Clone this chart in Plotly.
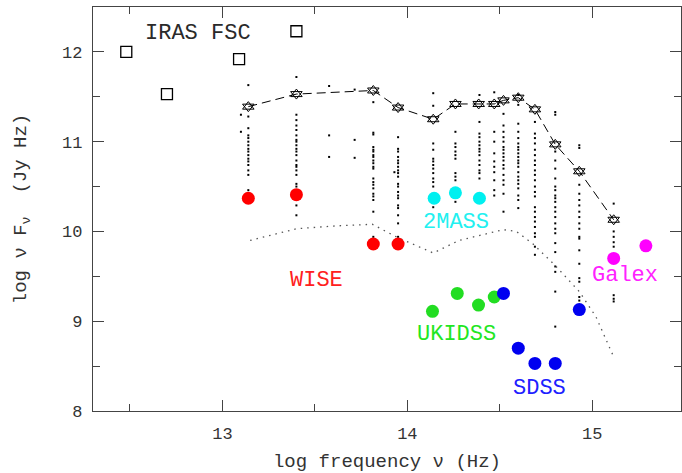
import plotly.graph_objects as go

# IRAS FSC photometry (open squares)
iras_freq = [12.48, 12.70, 13.09, 13.40]
iras_flux = [12.00, 11.53, 11.92, 12.23]

# Template SED (six-pointed stars joined by dashed line)
sed_freq = [13.14, 13.40, 13.816, 13.95, 14.14, 14.26, 14.386, 14.47, 14.52, 14.60, 14.69, 14.80, 14.93, 15.116]
sed_flux = [11.39, 11.53, 11.57, 11.38, 11.25, 11.42, 11.42, 11.42, 11.46, 11.49, 11.36, 10.97, 10.67, 10.13]

# Model curve (dotted)
model_freq = [13.15, 13.40, 13.60, 13.81, 13.95, 14.14, 14.28, 14.40, 14.52, 14.59, 14.68, 14.80, 14.93, 15.02, 15.11]
model_flux = [9.90, 10.03, 10.06, 10.08, 9.93, 9.76, 9.90, 9.96, 10.02, 10.00, 9.86, 9.62, 9.33, 9.05, 8.63]

# Survey photometry
wise_freq = [13.14, 13.40, 13.816, 13.95]
wise_flux = [10.37, 10.41, 9.86, 9.86]
tmass_freq = [14.145, 14.26, 14.39]
tmass_flux = [10.37, 10.43, 10.37]
ukidss_freq = [14.136, 14.27, 14.385, 14.47]
ukidss_flux = [9.11, 9.31, 9.18, 9.27]
sdss_freq = [14.52, 14.60, 14.69, 14.80, 14.93]
sdss_flux = [9.31, 8.70, 8.53, 8.53, 9.13]
galex_freq = [15.116, 15.29]
galex_flux = [9.70, 9.84]

# Comparison sample (small dots), one list per frequency
cloud_freq = [13.10, 13.14, 13.40, 13.577, 13.715, 13.816, 13.93, 13.95, 14.14, 14.26,
              14.39, 14.47, 14.52, 14.60, 14.69, 14.80, 14.93, 15.116]
cloud_flux = [
    [11.30, 11.11],
    [11.63, 11.28, 11.15, 11.07, 11.04, 11.00, 10.96, 10.92, 10.89, 10.85, 10.81, 10.78,
     10.74, 10.68, 10.63, 10.46],
    [11.72, 11.30, 11.24, 11.18, 11.13, 11.07, 11.02, 11.00, 10.96, 10.92, 10.89, 10.85,
     10.79, 10.74, 10.72, 10.68, 10.63, 10.53, 10.50, 10.29, 10.18],
    [11.62, 11.07, 10.83],
    [11.58, 11.02, 10.82],
    [11.44, 11.10, 11.08, 10.94, 10.91, 10.89, 10.85, 10.83, 10.79, 10.76, 10.72, 10.70,
     10.59, 10.55, 10.52, 10.48, 10.42, 10.39, 10.35, 10.22, 9.94],
    [10.66],
    [11.05, 10.92, 10.89, 10.83, 10.79, 10.76, 10.72, 10.68, 10.65, 10.61, 10.53, 10.50,
     10.44, 10.40, 10.37, 10.29, 10.26, 10.18, 10.09, 9.94],
    [11.54, 11.40, 10.98, 10.91, 10.81, 10.78, 10.74, 10.70, 10.65, 10.59, 10.55, 10.50, 10.27],
    [11.11, 10.98, 10.94, 10.89, 10.85, 10.81, 10.65, 10.61, 10.57, 10.33],
    [11.52, 11.22, 11.09, 11.05, 11.00, 10.96, 10.92, 10.89, 10.85, 10.79, 10.74, 10.68,
     10.65, 10.59],
    [11.55, 11.11, 11.00, 10.87, 10.78, 10.72, 10.66, 10.57, 10.46, 10.40],
    [11.31, 11.18, 11.11, 11.05, 11.00, 10.94, 10.91, 10.87, 10.83, 10.79, 10.74, 10.70,
     10.63, 10.57, 10.52, 10.42, 10.22],
    [11.52, 11.41, 11.20, 11.11, 11.04, 10.98, 10.94, 10.91, 10.87, 10.83, 10.79, 10.76,
     10.72, 10.66, 10.61, 10.57, 10.53, 10.48, 10.40, 10.35, 10.26],
    [11.22, 11.09, 11.04, 10.98, 10.91, 10.85, 10.79, 10.74, 10.68, 10.63, 10.57, 10.50,
     10.44, 10.39, 10.27, 10.22, 10.16, 10.11, 10.05, 9.98, 9.94, 9.83, 9.74],
    [11.33, 11.30, 10.89, 10.79, 10.70, 10.59, 10.50, 10.46, 10.40, 10.37, 10.33, 10.27,
     10.22, 10.16, 10.09, 10.03, 9.98, 9.87, 9.77, 9.61, 9.55, 9.33, 8.94],
    [10.96, 10.93, 10.52, 10.42, 10.35, 10.29, 10.22, 10.16, 10.09, 10.03, 9.94, 9.92,
     9.79, 9.64, 9.48, 9.44, 9.27, 9.23],
    [10.31, 10.00, 9.94, 9.88, 9.83, 9.29, 9.25, 9.22],
]

# Survey labels: text, x, y, colour
labels = [
    ("IRAS FSC", 12.87, 12.21, "#2a2a2a"),
    ("WISE", 13.51, 9.45, "#ff2020"),
    ("2MASS", 14.262, 10.10, "#22f0f0"),
    ("UKIDSS", 14.265, 8.85, "#22e622"),
    ("SDSS", 14.713, 8.25, "#2020ff"),
    ("Galex", 15.177, 9.505, "#ff22ff"),
]

FONT = "Liberation Mono"
TEXT_COLOR = "#333333"
AXIS_COLOR = "#444444"

fig = go.Figure()

# sample dots
dx, dy = [], []
for f, vals in zip(cloud_freq, cloud_flux):
    dx += [f] * len(vals)
    dy += vals
fig.add_trace(go.Scatter(x=dx, y=dy, mode="markers",
                         marker=dict(symbol="square", size=2, color="black", line=dict(width=0))))

# model curve
fig.add_trace(go.Scatter(x=model_freq, y=model_flux, mode="lines",
                         line=dict(color="#555555", width=1.3, dash="1.5px,5px")))

# template SED: dashed line plus a star of David made of two open triangles
fig.add_trace(go.Scatter(x=sed_freq, y=sed_flux, mode="lines",
                         line=dict(color="black", width=1, dash="9px,5px")))
for sym in ("triangle-up-open", "triangle-down-open"):
    fig.add_trace(go.Scatter(x=sed_freq, y=sed_flux, mode="markers",
                             marker=dict(symbol=sym, size=10, color="black",
                                         line=dict(width=1, color="black"))))

# IRAS squares
fig.add_trace(go.Scatter(x=iras_freq, y=iras_flux, mode="markers",
                         marker=dict(symbol="square-open", size=11, color="black",
                                     line=dict(width=1.3, color="black"))))

for fx, fy, col in [(wise_freq, wise_flux, "#ff0000"),
                    (tmass_freq, tmass_flux, "#00f0f0"),
                    (ukidss_freq, ukidss_flux, "#22dd22"),
                    (sdss_freq, sdss_flux, "#0000f0"),
                    (galex_freq, galex_flux, "#ff00ff")]:
    fig.add_trace(go.Scatter(x=fx, y=fy, mode="markers",
                             marker=dict(symbol="circle", size=13, color=col, line=dict(width=0))))

for text, lx, ly, col in labels:
    fig.add_annotation(x=lx, y=ly, text=text, showarrow=False,
                       font=dict(family=FONT, size=22, color=col))

axis_common = dict(
    showline=True, linecolor=AXIS_COLOR, linewidth=1.2, mirror="allticks",
    ticks="inside", ticklen=11, tickwidth=1.2, tickcolor=AXIS_COLOR,
    showgrid=False, zeroline=False,
    tickfont=dict(family=FONT, size=17, color=TEXT_COLOR),
    minor=dict(ticks="inside", ticklen=7, tickwidth=1.2, tickcolor=AXIS_COLOR, dtick=0.5, showgrid=False),
)

fig.update_xaxes(range=[12.3, 15.48], tick0=13, dtick=1, ticklabelstandoff=6, **axis_common,
                 title=dict(text="log frequency ν (Hz)", standoff=14,
                            font=dict(family=FONT, size=19, color=TEXT_COLOR)))
fig.update_yaxes(range=[8, 12.5], tick0=8, dtick=1, ticklabelstandoff=6, **axis_common,
                 title=dict(text="log ν F<sub>ν</sub>  (Jy Hz)", standoff=30,
                            font=dict(family=FONT, size=19, color=TEXT_COLOR)))

fig.update_layout(width=682, height=473, showlegend=False,
                  margin=dict(l=93, r=1, t=7, b=62),
                  paper_bgcolor="white", plot_bgcolor="white")

fig.write_html("out.html")
